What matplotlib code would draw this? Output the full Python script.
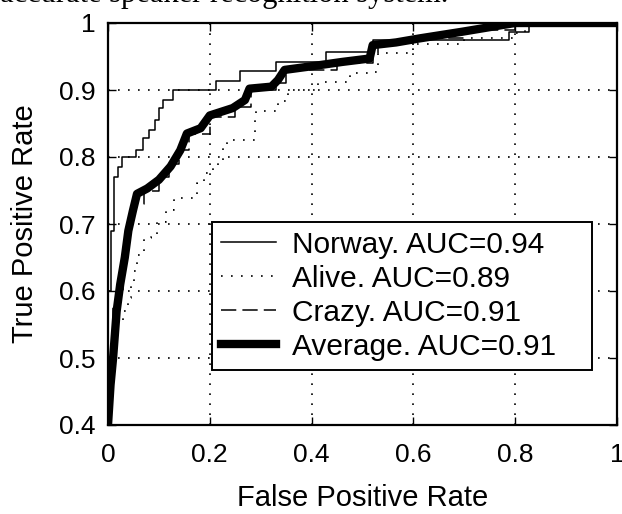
import matplotlib
matplotlib.use("Agg")
from matplotlib import pyplot as plt

# step curves (x = FPR where the step happens, y = new TPR)
norway_x = [0, 0, 0.005, 0.012, 0.02, 0.028, 0.055, 0.069, 0.08, 0.092, 0.1, 0.108, 0.128,
            0.213, 0.259, 0.331, 0.429, 0.52, 0.788, 0.827, 1.0]
norway_y = [0.4, 0.6, 0.69, 0.77, 0.785, 0.80, 0.81, 0.828, 0.84, 0.855, 0.873, 0.885, 0.90,
            0.913, 0.928, 0.942, 0.957, 0.975, 0.987, 1.0, 1.0]

alive_x = [0, 0, 0.01, 0.02, 0.03, 0.04, 0.046, 0.051, 0.057, 0.071, 0.084, 0.097, 0.113, 0.129,
           0.149, 0.175, 0.188, 0.206, 0.216, 0.225, 0.233, 0.285, 0.288, 0.291, 0.331, 0.334,
           0.35, 0.353, 0.412, 0.47, 0.475, 0.51, 0.53, 0.6, 0.7, 0.8, 0.82, 1.0]
alive_y = [0.4, 0.5, 0.53, 0.55, 0.57, 0.59, 0.61, 0.63, 0.654, 0.679, 0.681, 0.703, 0.721, 0.739,
           0.739, 0.761, 0.776, 0.784, 0.793, 0.815, 0.825, 0.825, 0.855, 0.868, 0.870, 0.883,
           0.885, 0.90, 0.912, 0.912, 0.925, 0.927, 0.955, 0.968, 0.978, 0.985, 1.0, 1.0]

crazy_x = [0, 0, 0.01, 0.02, 0.03, 0.04, 0.05, 0.07, 0.1, 0.12, 0.14, 0.16, 0.2, 0.25, 0.28,
           0.33, 0.35, 0.45, 0.52, 0.53, 0.6, 0.7, 0.78, 0.8, 1.0]
crazy_y = [0.4, 0.55, 0.58, 0.60, 0.66, 0.70, 0.73, 0.75, 0.77, 0.79, 0.81, 0.835, 0.86, 0.875,
           0.90, 0.91, 0.93, 0.94, 0.955, 0.97, 0.978, 0.99, 0.99, 1.0, 1.0]

avg_x = [0, 0.005, 0.01, 0.017, 0.024, 0.033, 0.04, 0.049, 0.057, 0.077, 0.1, 0.123, 0.142,
         0.155, 0.182, 0.2, 0.245, 0.269, 0.278, 0.321, 0.334, 0.347, 0.396, 0.461, 0.514, 0.52,
         0.566, 0.612, 0.696, 0.775, 0.80, 1.0]
avg_y = [0.40, 0.46, 0.50, 0.57, 0.61, 0.65, 0.69, 0.72, 0.745, 0.753, 0.766, 0.786, 0.81,
         0.835, 0.843, 0.862, 0.873, 0.885, 0.902, 0.905, 0.915, 0.93, 0.935, 0.942, 0.947, 0.967,
         0.971, 0.977, 0.987, 0.997, 1.0, 1.0]

labels = ['Norway. AUC=0.94', 'Alive. AUC=0.89', 'Crazy. AUC=0.91', 'Average. AUC=0.91']
x_ticks = [0, 0.2, 0.4, 0.6, 0.8, 1]
y_ticks = [0.4, 0.5, 0.6, 0.7, 0.8, 0.9, 1]

plt.rcParams['font.family'] = ['Liberation Sans', 'DejaVu Sans']

fig = plt.figure(figsize=(6.22, 5.14), dpi=100)
ax = fig.add_axes([108 / 622, 1 - 425 / 514, 509 / 622, 402 / 514])

dots = (0, (1, 5))
ax.plot(norway_x, norway_y, color='black', lw=1.1, drawstyle='steps-post', label=labels[0])
ax.plot(alive_x, alive_y, color='black', lw=1.2, ls=dots, drawstyle='steps-post', label=labels[1])
ax.plot(crazy_x, crazy_y, color='black', lw=1.1, ls=(0, (10, 4)), drawstyle='steps-post', label=labels[2])
ax.plot(avg_x, avg_y, color='black', lw=6, label=labels[3])

ax.set_xlim(0, 1)
ax.set_ylim(0.4, 1)
ax.set_xticks(x_ticks)
ax.set_xticklabels(['0', '0.2', '0.4', '0.6', '0.8', '1'])
ax.set_yticks(y_ticks)
ax.set_yticklabels(['0.4', '0.5', '0.6', '0.7', '0.8', '0.9', '1'])
ax.grid(True, color='black', ls=dots, lw=1.2)
ax.tick_params(direction='in', length=6, width=1, top=True, right=True, labelsize=19, colors='black')
ax.tick_params(axis='x', pad=13)
ax.tick_params(axis='y', pad=9)
for s in ax.spines.values():
    s.set_linewidth(1.6)

ax.set_xlabel('False Positive Rate', fontsize=21, labelpad=12)
ax.set_ylabel('True Positive Rate', fontsize=21, labelpad=14)

leg = ax.legend(loc='upper left', bbox_to_anchor=(0.204, 0.142, 0.747, 0.363), mode='expand',
                borderaxespad=0, fontsize=21.5, fancybox=False, framealpha=1, edgecolor='black',
                handlelength=1.84, handletextpad=0.53, labelspacing=0.2, borderpad=0.3)
leg.get_frame().set_linewidth(1.4)

# caption line of the scanned page, cut off at the top
fig.text(0.0, 1 - 2 / 514, 'accurate speaker recognition system.', fontsize=22,
         family='Liberation Serif', va='baseline', ha='left')

fig.savefig('out.png', dpi=100)
